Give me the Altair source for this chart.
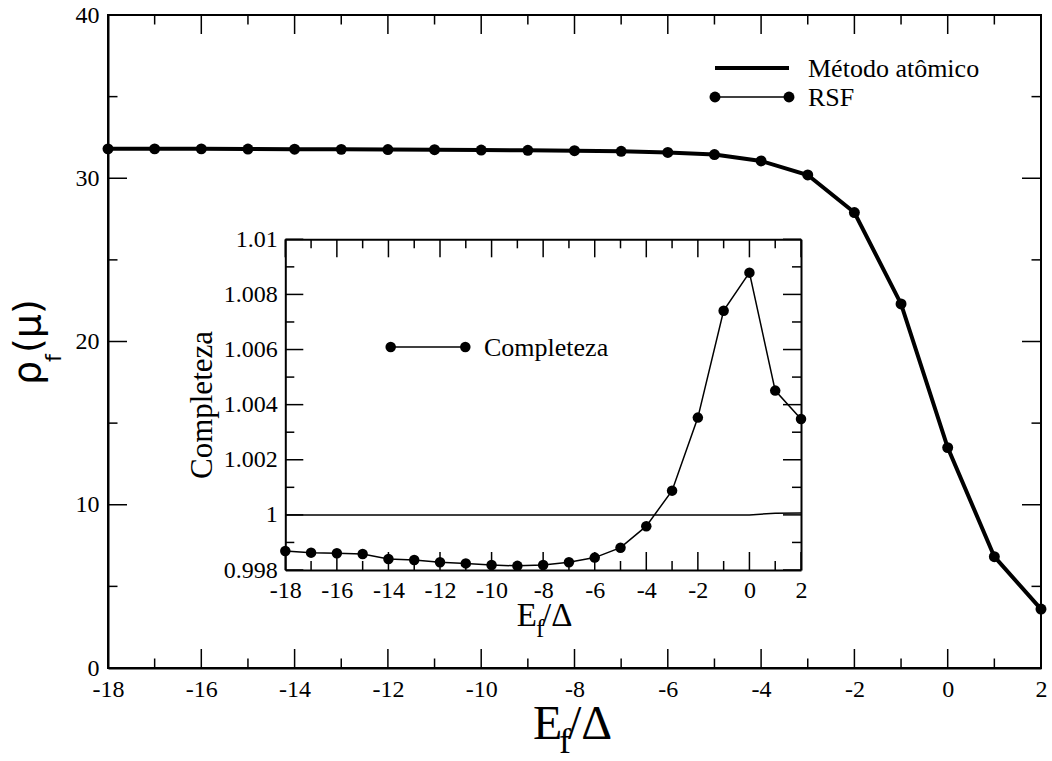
import altair as alt
import pandas as pd

# ---------------- data ----------------
ef_main = [-18, -17, -16, -15, -14, -13, -12, -11, -10, -9, -8, -7, -6, -5, -4, -3, -2, -1, 0, 1, 2]
rho_atomico = [31.80, 31.80, 31.80, 31.79, 31.78, 31.77, 31.76, 31.75, 31.73, 31.71, 31.69,
               31.65, 31.58, 31.45, 31.06, 30.20, 27.90, 22.30, 13.50, 6.82, 3.61]
rho_rsf = [31.80, 31.80, 31.80, 31.79, 31.78, 31.77, 31.76, 31.75, 31.73, 31.71, 31.69,
           31.65, 31.58, 31.45, 31.06, 30.20, 27.90, 22.30, 13.50, 6.82, 3.61]

ef_inset = [-18, -17, -16, -15, -14, -13, -12, -11, -10, -9, -8, -7, -6, -5, -4, -3, -2, -1, 0, 1, 2]
completeza = [0.99869, 0.99863, 0.99861, 0.99858, 0.99840, 0.99836, 0.99828, 0.99824, 0.99818,
              0.99815, 0.99818, 0.99828, 0.99845, 0.99881, 0.99959, 1.00088, 1.00353, 1.00741,
              1.00879, 1.00451, 1.00348]
referencia = [1.0, 1.0, 1.0, 1.0, 1.0, 1.0, 1.0, 1.0, 1.0, 1.0, 1.0, 1.0, 1.0, 1.0, 1.0, 1.0,
              1.0, 1.0, 1.0, 1.00006, 1.00007]

main_x_major = [-18, -16, -14, -12, -10, -8, -6, -4, -2, 0, 2]
main_x_minor = [-17, -15, -13, -11, -9, -7, -5, -3, -1, 1]
main_y_major = [0, 10, 20, 30, 40]
main_y_minor = [5, 15, 25, 35]

inset_x_major = [-18, -16, -14, -12, -10, -8, -6, -4, -2, 0, 2]
inset_x_minor = [-17, -15, -13, -11, -9, -7, -5, -3, -1, 1]
inset_y_major = [0.998, 1.0, 1.002, 1.004, 1.006, 1.008, 1.01]
inset_y_minor = [0.999, 1.001, 1.003, 1.005, 1.007, 1.009]

# ---------------- layout constants ----------------
W, H = 933, 653
IL, IR, IT, IB = 177.3, 693.0, 224.3, 555.0   # inset frame inside plot area
SERIF = "Liberation Serif"
MINUS_FIX = "replace(datum.label, '\u2212', '-')"

MX = alt.Scale(domain=[-18, 2], nice=False, zero=False)
MY = alt.Scale(domain=[0, 40], nice=False, zero=False)
IX = alt.Scale(domain=[-18, 2], range=[IL, IR], nice=False, zero=False)
IY = alt.Scale(domain=[0.998, 1.01], range=[IB, IT], nice=False, zero=False)

main_df = pd.DataFrame({"x": ef_main, "atomico": rho_atomico, "rsf": rho_rsf})
inset_df = pd.DataFrame({"x": ef_inset, "c": completeza, "ref": referencia})
one = pd.DataFrame({"d": [0]})


def vticks(vals, scale, y0, y1, w=1.5):
    return alt.Chart(pd.DataFrame({"v": vals})).mark_rule(color="black", strokeWidth=w).encode(
        x=alt.X("v:Q", scale=scale, axis=None), y=alt.value(y0), y2=alt.value(y1))


def hticks(vals, scale, x0, x1, w=1.5):
    return alt.Chart(pd.DataFrame({"v": vals})).mark_rule(color="black", strokeWidth=w).encode(
        y=alt.Y("v:Q", scale=scale, axis=None), x=alt.value(x0), x2=alt.value(x1))


def txt(s, x, y, size, font=SERIF, angle=0, align="left", baseline="alphabetic"):
    return alt.Chart(one).mark_text(text=s, font=font, fontSize=size, angle=angle, align=align,
                                    baseline=baseline, color="black").encode(
        x=alt.value(x), y=alt.value(y))


def label_axis(orient, offset, values, fmt, pad, expr=None, labels=True):
    kw = dict(orient=orient, offset=offset, ticks=False, tickSize=0, domain=True,
              domainColor="black", domainWidth=2, grid=False, title=None)
    if labels:
        kw.update(values=values, format=fmt, labelFont=SERIF, labelFontSize=24,
                  labelColor="black", labelPadding=pad, labelFlush=False, labelOverlap=False)
        if expr:
            kw["labelExpr"] = expr
    else:
        kw["labels"] = False
    return alt.Axis(**kw)


# ---------------- main plot ----------------
main_line = alt.Chart(main_df).mark_line(color="black", strokeWidth=4).encode(
    x=alt.X("x:Q", scale=MX, title=None,
            axis=label_axis("bottom", 0, main_x_major, "d", 9, MINUS_FIX)),
    y=alt.Y("atomico:Q", scale=MY, title=None,
            axis=label_axis("left", 0, main_y_major, "d", 9)),
)
rsf_line = alt.Chart(main_df).mark_line(color="black", strokeWidth=1.5).encode(
    x=alt.X("x:Q", scale=MX, axis=None), y=alt.Y("rsf:Q", scale=MY, axis=None))
rsf_pts = alt.Chart(main_df).mark_point(filled=True, color="black", size=120, opacity=1).encode(
    x=alt.X("x:Q", scale=MX, axis=None), y=alt.Y("rsf:Q", scale=MY, axis=None))

MAJ, MIN = 19, 9.5
main_ticks = [
    vticks(main_x_major, MX, H, H - MAJ), vticks(main_x_minor, MX, H, H - MIN),
    vticks(main_x_major, MX, 0, MAJ), vticks(main_x_minor, MX, 0, MIN),
    hticks(main_y_major, MY, 0, MAJ), hticks(main_y_minor, MY, 0, MIN),
    hticks(main_y_major, MY, W, W - MAJ), hticks(main_y_minor, MY, W, W - MIN),
]

leg_line = alt.Chart(one).mark_rule(color="black", strokeWidth=4).encode(
    x=alt.value(607), x2=alt.value(681), y=alt.value(53))
leg_rsf_line = alt.Chart(one).mark_rule(color="black", strokeWidth=1.5).encode(
    x=alt.value(607), x2=alt.value(681), y=alt.value(82))
leg_rsf_p1 = alt.Chart(one).mark_point(filled=True, color="black", size=120, opacity=1).encode(
    x=alt.value(607), y=alt.value(82))
leg_rsf_p2 = alt.Chart(one).mark_point(filled=True, color="black", size=120, opacity=1).encode(
    x=alt.value(681), y=alt.value(82))
leg_t1 = txt("Método atômico", 700, 54, 26, baseline="middle")
leg_t2 = txt("RSF", 700, 83, 26, baseline="middle")

xt_E = txt("E", 425, 724, 48)
xt_f = txt("f", 451, 738, 36)
xt_rest = txt("/Δ", 460, 724, 48)

yt_rho = txt("ρ", -68, 370, 38, font="DejaVu Sans", angle=270)
yt_f = txt("f", -47, 347, 22, font="DejaVu Sans", angle=270)
yt_mu = txt("(μ)", -68, 338, 38, font="DejaVu Sans", angle=270)

# ---------------- inset ----------------
inset_line = alt.Chart(inset_df).mark_line(color="black", strokeWidth=1.5).encode(
    x=alt.X("x:Q", scale=IX, title=None,
            axis=label_axis("bottom", -(H - IB), inset_x_major, "d", 8, MINUS_FIX)),
    y=alt.Y("c:Q", scale=IY, title=None,
            axis=label_axis("left", -IL, inset_y_major, "~g", 8)),
)
inset_ref = alt.Chart(inset_df).mark_line(color="black", strokeWidth=1.5).encode(
    x=alt.X("x:Q", scale=IX, title=None,
            axis=label_axis("top", -IT, None, None, 0, labels=False)),
    y=alt.Y("ref:Q", scale=IY, title=None,
            axis=label_axis("right", -(W - IR), None, None, 0, labels=False)),
)
inset_pts = alt.Chart(inset_df).mark_point(filled=True, color="black", size=110, opacity=1).encode(
    x=alt.X("x:Q", scale=IX, axis=None), y=alt.Y("c:Q", scale=IY, axis=None))

IMAJ, IMIN = 18, 9
inset_ticks = [
    vticks(inset_x_major, IX, IB, IB - IMAJ), vticks(inset_x_minor, IX, IB, IB - IMIN),
    vticks(inset_x_major, IX, IT, IT + IMAJ), vticks(inset_x_minor, IX, IT, IT + IMIN),
    hticks(inset_y_major, IY, IL, IL + IMAJ), hticks(inset_y_minor, IY, IL, IL + IMIN),
    hticks(inset_y_major, IY, IR, IR - IMAJ), hticks(inset_y_minor, IY, IR, IR - IMIN),
]

ileg_line = alt.Chart(one).mark_rule(color="black", strokeWidth=1.5).encode(
    x=alt.value(282.7), x2=alt.value(357.3), y=alt.value(332))
ileg_p1 = alt.Chart(one).mark_point(filled=True, color="black", size=110, opacity=1).encode(
    x=alt.value(282.7), y=alt.value(332))
ileg_p2 = alt.Chart(one).mark_point(filled=True, color="black", size=110, opacity=1).encode(
    x=alt.value(357.3), y=alt.value(332))
ileg_t = txt("Completeza", 376, 333, 26, baseline="middle")

it_y = txt("Completeza", 103.7, 390, 31, angle=270, align="center")
it_E = txt("E", 408.7, 611, 33)
it_f = txt("f", 428, 622, 25)
it_rest = txt("/Δ", 434, 611, 33)

chart = alt.layer(
    main_line, rsf_line, rsf_pts, *main_ticks,
    leg_line, leg_rsf_line, leg_rsf_p1, leg_rsf_p2, leg_t1, leg_t2,
    xt_E, xt_f, xt_rest, yt_rho, yt_f, yt_mu,
    inset_line, inset_ref, inset_pts, *inset_ticks,
    ileg_line, ileg_p1, ileg_p2, ileg_t, it_y, it_E, it_f, it_rest,
).resolve_scale(
    x="independent", y="independent"
).resolve_axis(
    x="independent", y="independent"
).properties(
    width=W, height=H,
    padding={"left": 108, "top": 15, "right": 11, "bottom": 93},
    autosize=alt.AutoSizeParams(type="none"),
    background="white",
).configure_view(stroke="black", strokeWidth=2).configure_axis(grid=False)

chart.save("out.html", embed_options={"renderer": "svg", "actions": False})
